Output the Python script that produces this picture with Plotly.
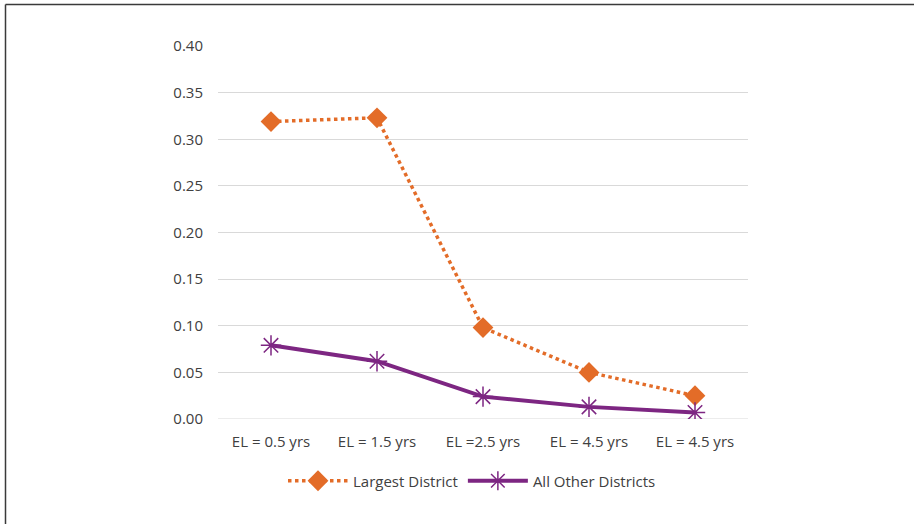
import plotly.graph_objects as go

# Categories and series values
categories = ["EL = 0.5 yrs", "EL = 1.5 yrs", "EL =2.5 yrs", "EL = 4.5 yrs", "EL = 4.5 yrs"]
largest_district = [0.319, 0.323, 0.098, 0.050, 0.025]
other_districts = [0.079, 0.062, 0.024, 0.013, 0.007]
y_ticks = [0.00, 0.05, 0.10, 0.15, 0.20, 0.25, 0.30, 0.35, 0.40]

W, H = 914, 524
M_L, M_R, M_T, M_B = 218, 166, 46, 105
ORANGE = "#E36C28"
PURPLE = "#7D2682"
TEXT = "#404040"
FONT = "Open Sans, Liberation Sans, sans-serif"

x_pos = list(range(len(categories)))

fig = go.Figure()
fig.add_trace(go.Scatter(
    x=x_pos, y=largest_district, name="Largest District",
    mode="lines+markers",
    line=dict(color=ORANGE, width=3.5, dash="dot"),
    marker=dict(symbol="diamond", size=16, color=ORANGE),
))
fig.add_trace(go.Scatter(
    x=x_pos, y=other_districts, name="All Other Districts",
    mode="lines+markers",
    line=dict(color=PURPLE, width=4),
    marker=dict(symbol="asterisk-open", size=17, color=PURPLE,
                line=dict(color=PURPLE, width=1.5)),
))


def px_to_paper_x(px):
    return (px - M_L) / (W - M_L - M_R)


def px_to_paper_y(py):
    return (H - M_B - py) / (H - M_T - M_B)


# Outer frame: top and left edges
fig.add_shape(type="line", xref="paper", yref="paper",
              x0=px_to_paper_x(5.5), x1=px_to_paper_x(W), y0=px_to_paper_y(4.5), y1=px_to_paper_y(4.5),
              line=dict(color="#3a3a3a", width=1.5))
fig.add_shape(type="line", xref="paper", yref="paper",
              x0=px_to_paper_x(5.5), x1=px_to_paper_x(5.5), y0=px_to_paper_y(4.5), y1=px_to_paper_y(H),
              line=dict(color="#3a3a3a", width=1.5))

fig.update_layout(
    width=W, height=H,
    margin=dict(l=M_L, r=M_R, t=M_T, b=M_B),
    paper_bgcolor="white", plot_bgcolor="white",
    font=dict(family=FONT, size=15, color=TEXT),
    showlegend=True,
    legend=dict(orientation="h", x=px_to_paper_x(472), xanchor="center",
                y=px_to_paper_y(481), yanchor="middle",
                font=dict(size=15, color=TEXT), itemwidth=60),
    xaxis=dict(range=[-0.5, len(categories) - 0.5], tickmode="array",
               tickvals=x_pos, ticktext=categories, showgrid=False,
               zeroline=False, showline=False, ticks="", ticklen=0,
               ticklabelstandoff=12),
    yaxis=dict(range=[0, 0.40], tickmode="array", tickvals=y_ticks,
               ticktext=[f"{v:.2f}" for v in y_ticks],
               showgrid=True, gridcolor="#d9d9d9", gridwidth=1,
               zeroline=False, showline=False, ticks="", ticklabelstandoff=14),
)
# baseline gridline at zero
fig.add_shape(type="line", xref="paper", yref="y", x0=0, x1=1, y0=0, y1=0,
              line=dict(color="#d9d9d9", width=1), layer="below")

fig.write_html("out.html")
